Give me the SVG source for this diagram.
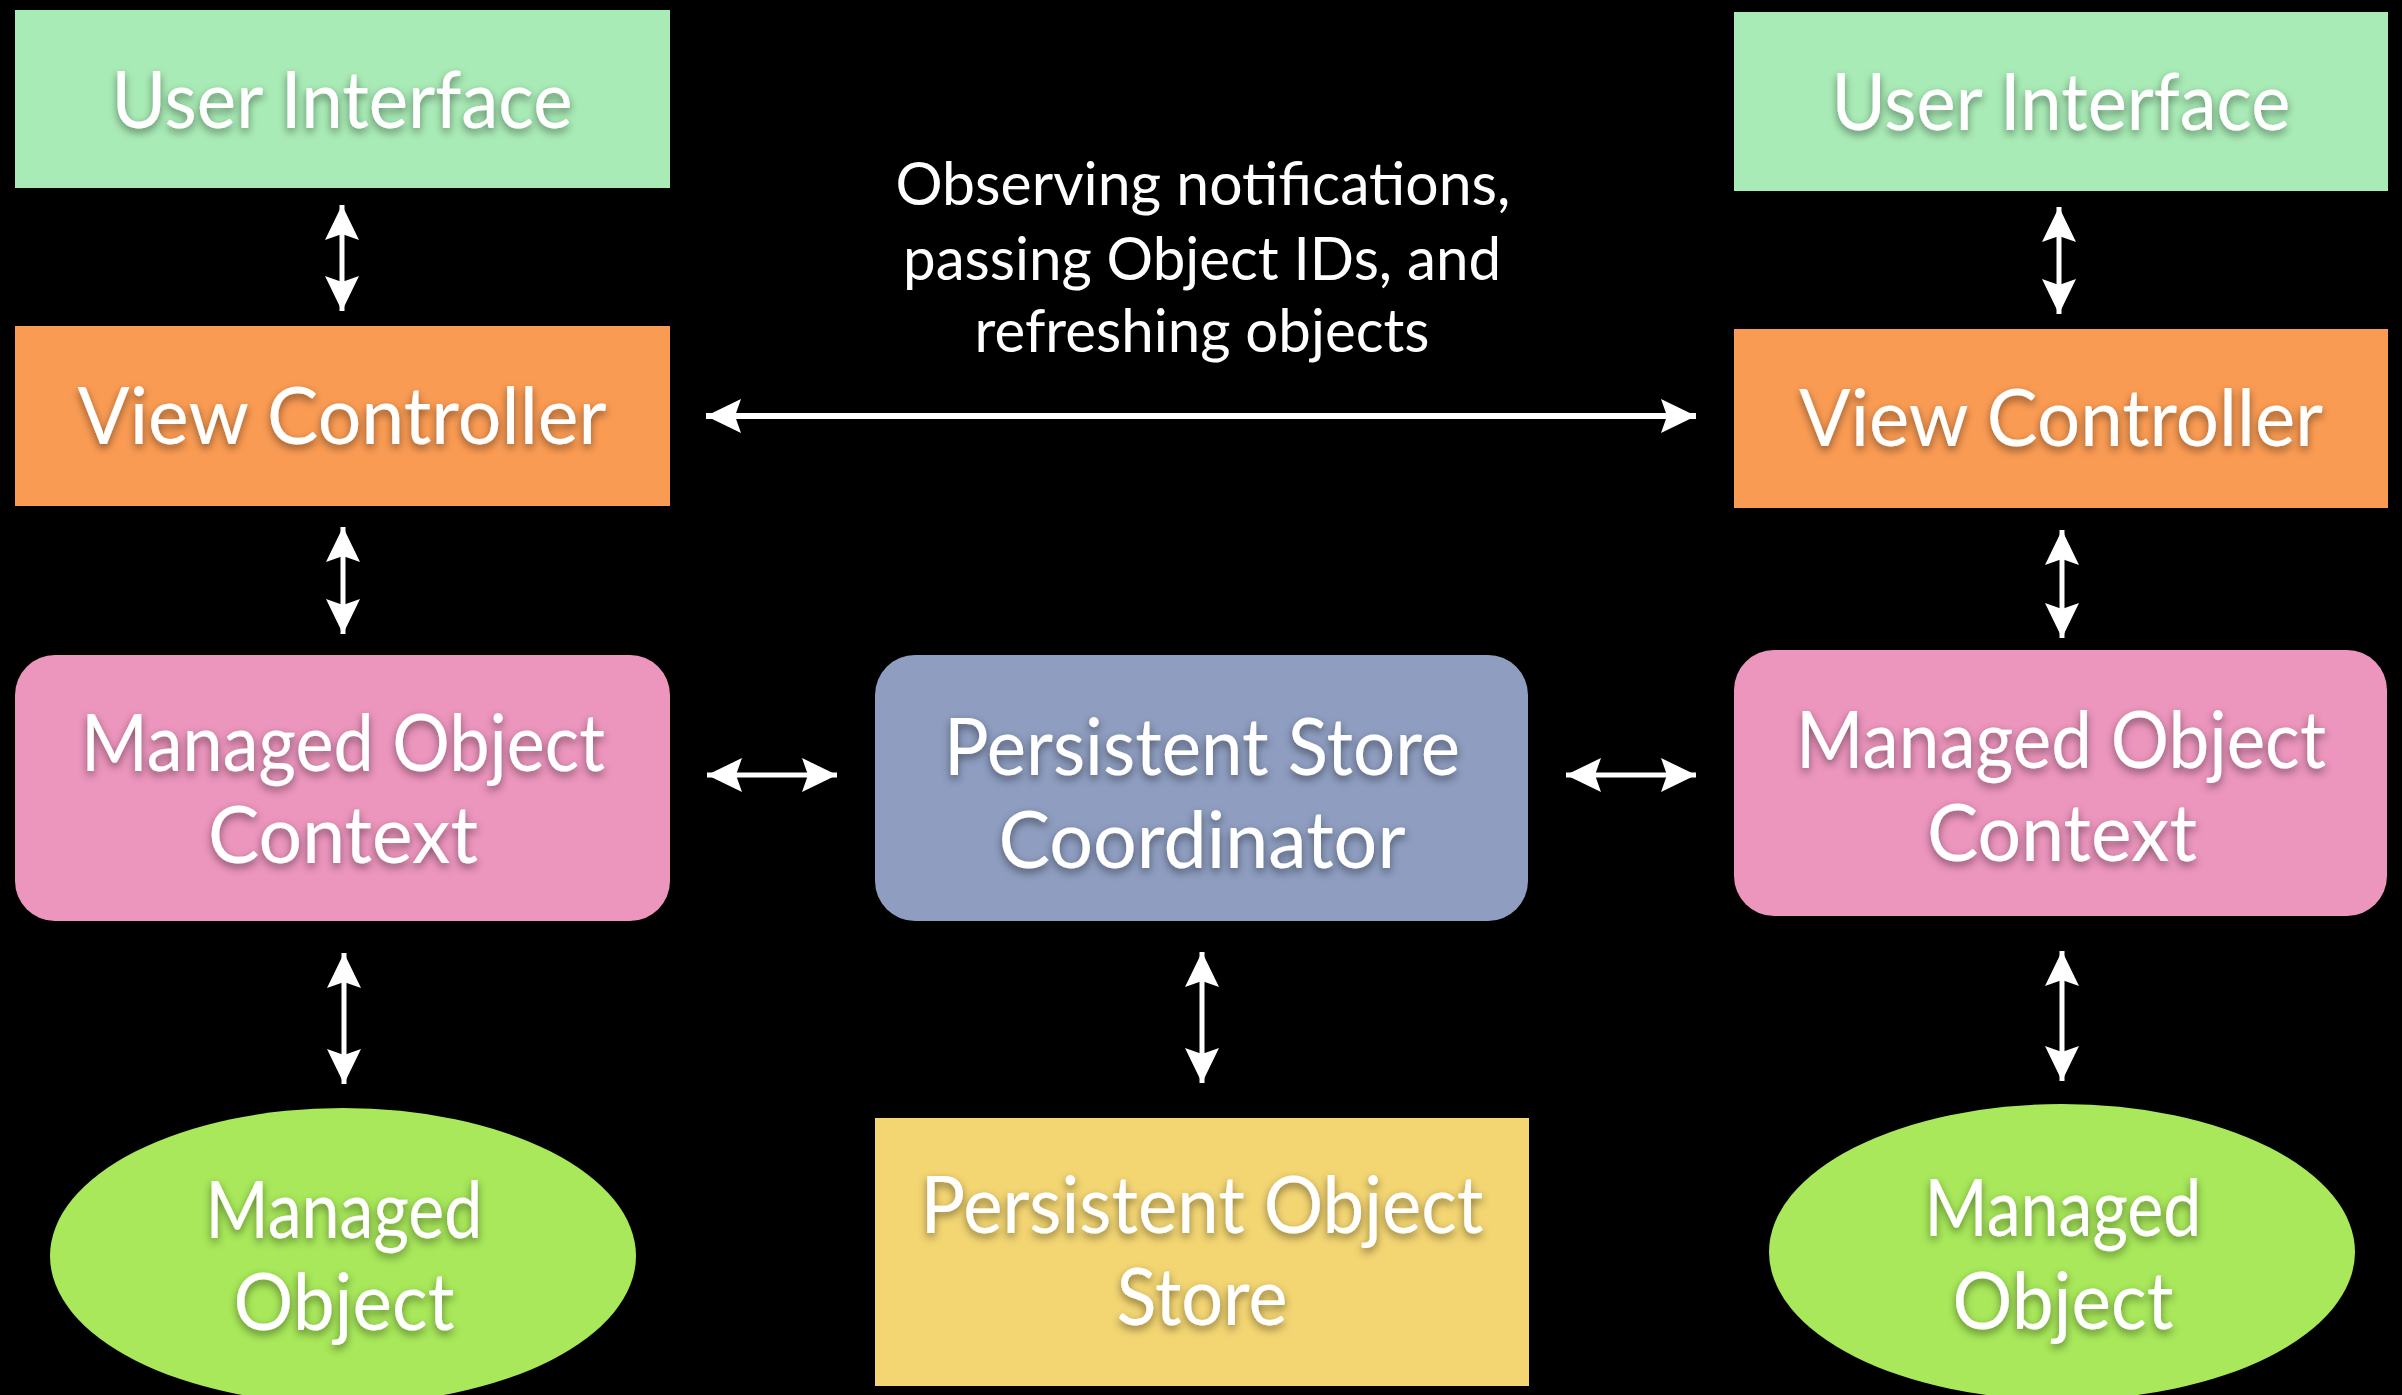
<svg xmlns="http://www.w3.org/2000/svg" width="2402" height="1395" viewBox="0 0 2402 1395">
<defs>
<filter id="ts" x="-10%" y="-30%" width="120%" height="170%">
<feDropShadow dx="0" dy="4" stdDeviation="4" flood-color="#000" flood-opacity="0.45"/>
</filter>
<marker id="ah" viewBox="0 -18 36 36" refX="35" refY="0" markerWidth="36" markerHeight="36" markerUnits="userSpaceOnUse" orient="auto-start-reverse">
<path d="M0,-17 L35,0 L0,17 L6,0 Z" fill="#fff"/>
</marker>
</defs>
<style>
.lbl{font-family:"Lato","Open Sans","Liberation Sans",sans-serif;font-size:80px;fill:#fff;text-anchor:middle;filter:url(#ts)}
.note{font-family:"Lato","Open Sans","Liberation Sans",sans-serif;font-size:60px;fill:#fff;text-anchor:middle}
.con{stroke:#fff;stroke-width:5;fill:none;marker-start:url(#ah);marker-end:url(#ah)}
.ui{fill:#a9ebb6}
.vc{fill:#fa9b53}
.moc{fill:#ec95bd}
.psc{fill:#8e9dc0}
.pos{fill:#f3d572}
.mo{fill:#a8e85a}
</style>
<rect x="0" y="0" width="2402" height="1395" fill="#000"/>

<g id="connectors">
<line class="con" x1="342" y1="205" x2="342" y2="311"/>
<line class="con" x1="343" y1="527" x2="343" y2="634"/>
<line class="con" x1="344" y1="953" x2="344" y2="1084"/>
<line class="con" x1="706" y1="416" x2="1696" y2="416" style="stroke-width:6"/>
<line class="con" x1="707" y1="775" x2="837" y2="775"/>
<line class="con" x1="1566" y1="775" x2="1696" y2="775"/>
<line class="con" x1="1202" y1="952" x2="1202" y2="1083"/>
<line class="con" x1="2059" y1="207" x2="2059" y2="314"/>
<line class="con" x1="2062" y1="530" x2="2062" y2="638"/>
<line class="con" x1="2062" y1="951" x2="2062" y2="1081"/>
</g>

<g id="note">
<text class="note" x="1203" y="205" textLength="615" lengthAdjust="spacingAndGlyphs">Observing notifications,</text>
<text class="note" x="1202" y="280" textLength="598" lengthAdjust="spacingAndGlyphs">passing Object IDs, and</text>
<text class="note" x="1202" y="352" textLength="455" lengthAdjust="spacingAndGlyphs">refreshing objects</text>
</g>

<g id="ui-left">
<rect class="ui" x="15" y="10" width="655" height="178"/>
<text class="lbl" x="342" y="128" textLength="461" lengthAdjust="spacingAndGlyphs">User Interface</text>
</g>
<g id="vc-left">
<rect class="vc" x="15" y="326" width="655" height="180"/>
<text class="lbl" x="342" y="444" textLength="529" lengthAdjust="spacingAndGlyphs">View Controller</text>
</g>
<g id="moc-left">
<rect class="moc" x="15" y="655" width="655" height="266" rx="40" ry="40"/>
<text class="lbl" x="343" y="771" textLength="524" lengthAdjust="spacingAndGlyphs">Managed Object</text>
<text class="lbl" x="343" y="863" textLength="270" lengthAdjust="spacingAndGlyphs">Context</text>
</g>
<g id="mo-left">
<ellipse class="mo" cx="343" cy="1256" rx="293" ry="148"/>
<text class="lbl" x="344" y="1238" textLength="277" lengthAdjust="spacingAndGlyphs">Managed</text>
<text class="lbl" x="344" y="1330" textLength="221" lengthAdjust="spacingAndGlyphs">Object</text>
</g>

<g id="psc">
<rect class="psc" x="875" y="655" width="653" height="266" rx="40" ry="40"/>
<text class="lbl" x="1202" y="775" textLength="516" lengthAdjust="spacingAndGlyphs">Persistent Store</text>
<text class="lbl" x="1202" y="868" textLength="407" lengthAdjust="spacingAndGlyphs">Coordinator</text>
</g>
<g id="pos">
<rect class="pos" x="875" y="1118" width="654" height="268"/>
<text class="lbl" x="1202" y="1233" textLength="563" lengthAdjust="spacingAndGlyphs">Persistent Object</text>
<text class="lbl" x="1202" y="1325" textLength="171" lengthAdjust="spacingAndGlyphs">Store</text>
</g>

<g id="ui-right">
<rect class="ui" x="1734" y="12" width="654" height="179"/>
<text class="lbl" x="2061" y="130" textLength="459" lengthAdjust="spacingAndGlyphs">User Interface</text>
</g>
<g id="vc-right">
<rect class="vc" x="1734" y="329" width="654" height="179"/>
<text class="lbl" x="2061" y="446" textLength="524" lengthAdjust="spacingAndGlyphs">View Controller</text>
</g>
<g id="moc-right">
<rect class="moc" x="1734" y="650" width="653" height="266" rx="40" ry="40"/>
<text class="lbl" x="2061" y="768" textLength="530" lengthAdjust="spacingAndGlyphs">Managed Object</text>
<text class="lbl" x="2062" y="861" textLength="270" lengthAdjust="spacingAndGlyphs">Context</text>
</g>
<g id="mo-right">
<ellipse class="mo" cx="2062" cy="1252" rx="293" ry="148"/>
<text class="lbl" x="2063" y="1236" textLength="277" lengthAdjust="spacingAndGlyphs">Managed</text>
<text class="lbl" x="2063" y="1329" textLength="221" lengthAdjust="spacingAndGlyphs">Object</text>
</g>
</svg>
